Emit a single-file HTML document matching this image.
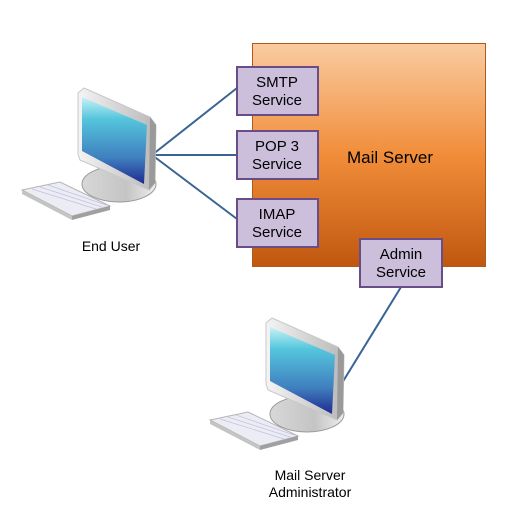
<!DOCTYPE html>
<html><head><style>
html,body{margin:0;padding:0;background:#fff;}
svg{display:block;}
text{font-family:"Liberation Sans",Arial,sans-serif;fill:#000;}
</style></head><body>
<svg width="513" height="531" viewBox="0 0 513 531" xmlns="http://www.w3.org/2000/svg">
<defs>
<linearGradient id="org" x1="0" y1="0" x2="0" y2="1">
<stop offset="0" stop-color="#f9cba0"/>
<stop offset="0.5" stop-color="#f18d3a"/>
<stop offset="1" stop-color="#c0570f"/>
</linearGradient>
<linearGradient id="scr" x1="0" y1="0" x2="0" y2="1">
<stop offset="0" stop-color="#c8f2f8"/>
<stop offset="0.25" stop-color="#55c6dc"/>
<stop offset="0.7" stop-color="#3f7fbf"/>
<stop offset="1" stop-color="#1f2a90"/>
</linearGradient>
<linearGradient id="bez" x1="0" y1="0" x2="1" y2="0">
<stop offset="0" stop-color="#f4f4f4"/>
<stop offset="1" stop-color="#b8b8b8"/>
</linearGradient>
<linearGradient id="stand" x1="0" y1="0" x2="1" y2="0">
<stop offset="0" stop-color="#d8d8d8"/>
<stop offset="0.6" stop-color="#c4c4c4"/>
<stop offset="1" stop-color="#eeeeee"/>
</linearGradient>
<g id="pc">
<!-- keyboard -->
<polygon points="22,190 60,182 110,206 72,216" fill="#ececf4" stroke="#b4b4b4" stroke-width="1"/>
<polygon points="22,190 72,216 72,220 22,194" fill="#c4c4c4"/>
<polygon points="72,216 110,206 110,210 72,220" fill="#a0a0a0"/>
<g stroke="#c0c0e0" stroke-width="0.7">
<line x1="32" y1="189" x2="96" y2="209"/><line x1="40" y1="187" x2="102" y2="207"/><line x1="48" y1="185" x2="106" y2="205"/>
</g>
<!-- stand -->
<ellipse cx="119" cy="184" rx="37" ry="18" fill="url(#stand)" stroke="#9a9a9a" stroke-width="1"/>
<!-- monitor bezel -->
<polygon points="78,93 84,88 150,117 156,125 155,183 149,190 80,160 78,154" fill="url(#bez)" stroke="#c8c8c8" stroke-width="1"/>
<polygon points="150,117 156,125 155,183 149,190" fill="#9a9a9a"/>
<!-- screen -->
<polygon points="82,97 147,125 144,184 82,151" fill="url(#scr)"/>
</g>
</defs>

<g stroke="#3a6494" stroke-width="2" fill="none">
<line x1="152" y1="155" x2="237" y2="88"/>
<line x1="152" y1="155" x2="237" y2="155"/>
<line x1="152" y1="155" x2="237" y2="219"/>
<line x1="401" y1="287" x2="342" y2="383"/>
</g>

<rect x="252.5" y="43.5" width="233" height="223" fill="url(#org)" stroke="#b05a1a" stroke-width="1"/>
<text x="390" y="163" font-size="17" text-anchor="middle">Mail Server</text>

<g fill="#cbbfdc" stroke="#6a4c86" stroke-width="2">
<rect x="237" y="67" width="81" height="48"/>
<rect x="237" y="131" width="81" height="48"/>
<rect x="237" y="199" width="81" height="48"/>
<rect x="360" y="239" width="82" height="48"/>
</g>
<g font-size="15" text-anchor="middle">
<text x="277" y="87">SMTP</text><text x="277" y="105">Service</text>
<text x="277" y="151">POP 3</text><text x="277" y="169">Service</text>
<text x="277" y="219">IMAP</text><text x="277" y="237">Service</text>
<text x="401" y="259">Admin</text><text x="401" y="277">Service</text>
</g>

<use href="#pc"/>
<use href="#pc" transform="translate(188,230)"/>

<g font-size="14" text-anchor="middle">
<text x="111" y="251">End User</text>
<text x="310" y="480">Mail Server</text>
<text x="310" y="497">Administrator</text>
</g>
</svg>
</body></html>
